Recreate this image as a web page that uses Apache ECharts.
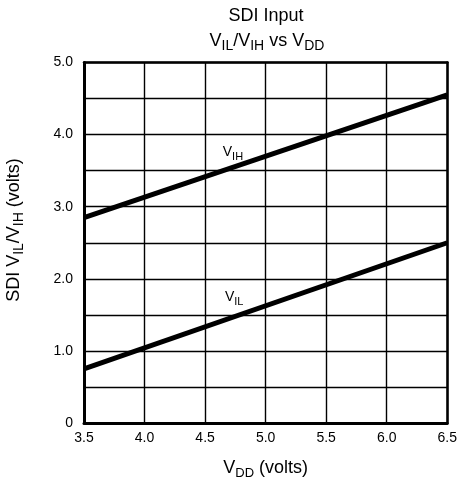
<!DOCTYPE html>
<html><head><meta charset="utf-8">
<script src="https://cdn.jsdelivr.net/npm/echarts@6/dist/echarts.min.js"></script>
<style>html,body{margin:0;padding:0;background:#fff}#c{width:460px;height:485px}</style>
</head><body><div id="c"></div>
<script>
// Data
const vdd = [3.5, 6.5];
const vihValues = [2.85, 4.55];
const vilValues = [0.75, 2.50];
const vihLabelAt = [4.73, 3.75];
const vilLabelAt = [4.74, 1.74];
const xTickLabels = ['3.5', '4.0', '4.5', '5.0', '5.5', '6.0', '6.5'];
const yTickLabels = ['0', '1.0', '2.0', '3.0', '4.0', '5.0'];

const FONT = 'Liberation Sans, Arial, Helvetica, sans-serif';
const rich = (big, small) => ({
  v: { fontSize: big, fontFamily: FONT, color: '#000', lineHeight: big + 6, verticalAlign: 'middle' },
  s: { fontSize: small, fontFamily: FONT, color: '#000', lineHeight: small, verticalAlign: 'bottom' }
});

const chart = echarts.init(document.getElementById('c'), null, { renderer: 'canvas' });
const pairs = (xs, ys) => xs.map((x, i) => [x, ys[i]]);

chart.setOption({
  backgroundColor: '#fff',
  animation: false,
  graphic: [
    { type: 'text', x: 266, y: 7, style: { text: 'SDI Input', font: '18px ' + FONT, fill: '#000', align: 'center', verticalAlign: 'top' } },
    { type: 'text', x: 267, y: 29, style: {
        text: '{v|V}{s|IL}{v|/V}{s|IH}{v| vs V}{s|DD}',
        rich: rich(18, 14), align: 'center', verticalAlign: 'top', fill: '#000' } },
    { type: 'text', x: 14, y: 230, rotation: Math.PI / 2, style: {
        text: '{v|SDI V}{s|IL}{v|/V}{s|IH}{v| (volts)}',
        rich: rich(18, 14), align: 'center', verticalAlign: 'middle', fill: '#000' } }
  ],
  grid: { left: 84, right: 12, top: 62.5, bottom: 61.5, containLabel: false },
  xAxis: [{
    type: 'value', min: 3.5, max: 6.5, interval: 0.5,
    name: '{v|V}{s|DD}{v| (volts)}', nameLocation: 'middle', nameGap: 33,
    nameTextStyle: { rich: rich(18, 13) },
    axisLine: { show: true, onZero: false, lineStyle: { color: '#000', width: 3 } },
    axisTick: { show: false },
    axisLabel: { fontSize: 14, fontFamily: FONT, color: '#000', margin: 8,
      formatter: v => { const i = Math.round((v - 3.5) / 0.5); return xTickLabels[i] || ''; } },
    splitLine: { show: true, lineStyle: { color: '#000', width: 1.4 } }
  }, {
    type: 'value', position: 'top', min: 3.5, max: 6.5, interval: 0.5,
    axisLine: { show: true, onZero: false, lineStyle: { color: '#000', width: 2.5 } },
    axisTick: { show: false }, axisLabel: { show: false }, splitLine: { show: false }
  }],
  yAxis: [{
    type: 'value', min: 0, max: 5, interval: 0.5,
    axisLine: { show: true, onZero: false, lineStyle: { color: '#000', width: 3 } },
    axisTick: { show: false },
    axisLabel: { fontSize: 14, fontFamily: FONT, color: '#000', margin: 11,
      formatter: v => { const r = Math.round(v * 2); return r % 2 === 0 ? (yTickLabels[r / 2] || '') : ''; } },
    splitLine: { show: true, lineStyle: { color: '#000', width: 1.4 } }
  }, {
    type: 'value', position: 'right', min: 0, max: 5, interval: 0.5,
    axisLine: { show: true, onZero: false, lineStyle: { color: '#000', width: 2.5 } },
    axisTick: { show: false }, axisLabel: { show: false }, splitLine: { show: false }
  }],
  series: [{
    name: 'VIH', type: 'line', data: pairs(vdd, vihValues), symbol: 'none',
    lineStyle: { color: '#000', width: 5 }, silent: true,
    markPoint: { symbol: 'circle', symbolSize: 1, itemStyle: { color: 'transparent' },
      label: { show: true, position: 'inside', formatter: '{v|V}{s|IH}', rich: rich(14, 11) },
      data: [{ coord: vihLabelAt }] }
  }, {
    name: 'VIL', type: 'line', data: pairs(vdd, vilValues), symbol: 'none',
    lineStyle: { color: '#000', width: 5 }, silent: true,
    markPoint: { symbol: 'circle', symbolSize: 1, itemStyle: { color: 'transparent' },
      label: { show: true, position: 'inside', formatter: '{v|V}{s|IL}', rich: rich(14, 11) },
      data: [{ coord: vilLabelAt }] }
  }]
});
</script></body></html>
